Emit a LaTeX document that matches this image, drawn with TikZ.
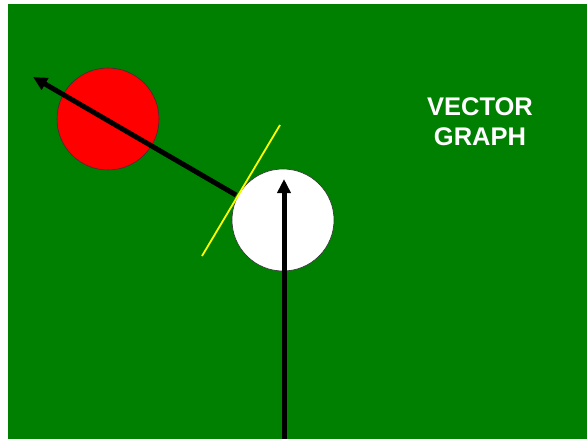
\documentclass[tikz,border=0pt]{standalone}
\usepackage{fontspec}
\setmainfont{Liberation Sans}
\usetikzlibrary{arrows.meta, positioning}
\definecolor{fieldgreen}{HTML}{008000}
\definecolor{ballred}{HTML}{ff0000}
\definecolor{edgegray}{HTML}{333333}
\definecolor{tangentyellow}{HTML}{ffff00}

\begin{document}
\begin{tikzpicture}[x=1pt, y=-1pt,
  ball/.style={circle, draw=edgegray, line width=0.6pt,
               minimum size=102pt, inner sep=0pt},
  vec/.style={-{Triangle[length=14pt, width=13pt]}, line width=5pt, color=black},
  tangent/.style={draw=tangentyellow, line width=1.8pt},
  title/.style={text=white, font=\fontsize{25.5}{30}\selectfont\bfseries, align=center}
]
\useasboundingbox (0,0) rectangle (587,439);
\fill[fieldgreen] (8,4) rectangle (587,439);

\node[ball, fill=ballred] (target) at (108,119) {};
\node[ball, fill=white]   (cue)    at (283,220) {};
\node[title] (label) at (480,122) {VECTOR\\GRAPH};

\coordinate (start)   at (284,439);
\coordinate (hit)     at (284,179);
\coordinate (contact) at (236,195);
\coordinate (away)    at (33,77);
\coordinate (tanA)    at (280,125);
\coordinate (tanB)    at (202,256);

\draw[tangent] (tanA)--(tanB);
\draw[vec] (contact)--(away);
\draw[vec] (start)--(hit);
\end{tikzpicture}
\end{document}
